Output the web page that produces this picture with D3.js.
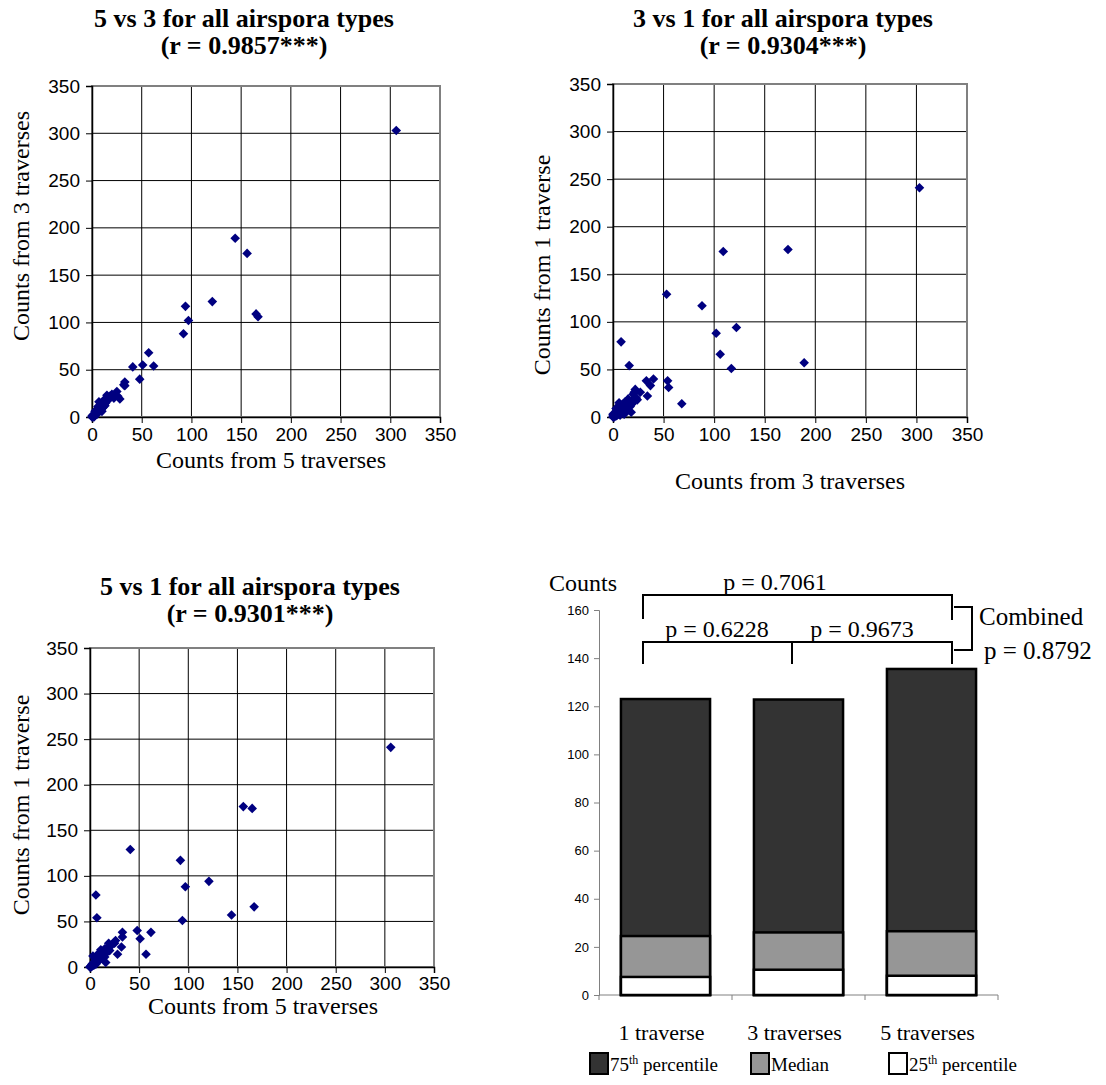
<!DOCTYPE html>
<html>
<head>
<meta charset="utf-8">
<script src="https://cdn.jsdelivr.net/npm/d3@7"></script>
<style>
  body { margin: 0; background: #fff; }
  svg text { fill: #000; }
</style>
</head>
<body>
<svg width="1106" height="1085"></svg>
<script>
// counts per airspora type (same index = same type)
var trav5 = [306, 156, 165, 144, 121, 92, 97, 167, 94, 41, 57, 48, 51, 62, 6, 7,
             33, 33, 32, 25, 28, 26, 15, 16, 17,
             0, 1, 1, 2, 2, 3, 3, 4, 4, 5, 5, 6, 6, 7, 8, 8, 9, 10, 10, 11, 12, 13, 14, 12,
             3, 9, 11, 13, 2, 0, 1, 4, 5, 7, 15, 18, 20, 22, 19, 10, 6];
var trav3 = [303, 173, 109, 189, 122, 88, 102, 106, 117, 53, 68, 40, 55, 54, 8, 16,
             33, 37, 34, 27, 19, 22, 23, 18, 20,
             0, 1, 0, 1, 3, 2, 4, 3, 5, 4, 6, 5, 7, 6, 9, 7, 10, 9, 12, 10, 13, 12, 15, 14,
             6, 14, 15, 19, 0, 1, 2, 7, 3, 11, 17, 22, 24, 20, 21, 6, 11];
var trav1 = [241, 176, 174, 57, 94, 117, 88, 66, 51, 129, 14, 40, 31, 38, 79, 54,
             38, 33, 22, 26, 14, 29, 20, 5, 16,
             0, 0, 1, 2, 1, 4, 2, 5, 3, 6, 4, 8, 5, 9, 6, 10, 8, 12, 9, 14, 10, 16, 12, 17,
             12, 7, 19, 17, 3, 0, 1, 2, 9, 13, 11, 21, 18, 24, 26, 15, 3];

var scatterTicks = [0, 50, 100, 150, 200, 250, 300, 350];

// box chart values
var groups = ["1 traverse", "3 traverses", "5 traverses"];
var pct75 = [123, 122.8, 135.5];
var median = [24.5, 26, 26.5];
var pct25 = [7.5, 10.5, 8];
var barTicks = [0, 20, 40, 60, 80, 100, 120, 140, 160];
var legendNames = [["75", "th", " percentile"], ["Median", "", ""], ["25", "th", " percentile"]];
var legendColors = ["#333333", "#969696", "#ffffff"];

var svg = d3.select("svg");
var serif = '"Liberation Serif", "Times New Roman", serif';
var sans = '"Liberation Sans", Arial, sans-serif';

function drawScatter(c) {
    var g = svg.append("g");
    var x = d3.scaleLinear().domain([0, 350]).range([c.left, c.right]);
    var y = d3.scaleLinear().domain([0, 350]).range([c.bottom, c.top]);

    // gridlines
    g.append("g").selectAll("line").data(scatterTicks.slice(1, -1)).enter().append("line")
        .attr("x1", d => x(d)).attr("x2", d => x(d))
        .attr("y1", c.top).attr("y2", c.bottom)
        .style("stroke", "#000").style("stroke-width", 1);
    g.append("g").selectAll("line").data(scatterTicks.slice(1, -1)).enter().append("line")
        .attr("x1", c.left).attr("x2", c.right)
        .attr("y1", d => y(d)).attr("y2", d => y(d))
        .style("stroke", "#000").style("stroke-width", 1);

    // plot border (gray)
    g.append("rect")
        .attr("x", c.left).attr("y", c.top)
        .attr("width", c.right - c.left).attr("height", c.bottom - c.top)
        .style("fill", "none").style("stroke", "#808080").style("stroke-width", 2);

    // axes
    var xa = g.append("g").attr("transform", "translate(0," + c.bottom + ")")
        .call(d3.axisBottom(x).tickValues(scatterTicks).tickSize(6).tickPadding(c.xPad));
    var ya = g.append("g").attr("transform", "translate(" + c.left + ",0)")
        .call(d3.axisLeft(y).tickValues(scatterTicks).tickSize(6).tickPadding(6));
    [xa, ya].forEach(function (a) {
        a.select(".domain").style("stroke", "#000").style("stroke-width", 1.5);
        a.selectAll(".tick line").style("stroke", "#000");
        a.selectAll("text").style("font-family", sans).style("font-size", "19px").style("fill", "#000");
    });

    // points
    g.append("g").selectAll("path").data(c.xs.map((v, i) => [v, c.ys[i]])).enter().append("path")
        .attr("d", "M0,-4.8L4.8,0L0,4.8L-4.8,0Z")
        .attr("transform", d => "translate(" + x(d[0]) + "," + y(d[1]) + ")")
        .style("fill", "#000080");

    // titles
    c.title.forEach(function (t, i) {
        g.append("text").attr("x", c.titleX).attr("y", c.titleY + i * 27)
            .attr("text-anchor", "middle")
            .style("font-family", serif).style("font-weight", "bold").style("font-size", "26px")
            .text(t);
    });
    g.append("text").attr("x", c.xLabelX).attr("y", c.xLabelY)
        .attr("text-anchor", "middle")
        .style("font-family", serif).style("font-size", "24px")
        .text(c.xLabel);
    g.append("text")
        .attr("transform", "translate(" + c.yLabelX + "," + c.yLabelY + ") rotate(-90)")
        .attr("text-anchor", "middle")
        .style("font-family", serif).style("font-size", "24px")
        .text(c.yLabel);
}

drawScatter({
    left: 92, right: 440, top: 86, bottom: 417, xPad: 5,
    xs: trav5, ys: trav3,
    title: ["5 vs 3 for all airspora types", "(r = 0.9857***)"], titleX: 244, titleY: 27,
    xLabel: "Counts from 5 traverses", xLabelX: 271, xLabelY: 468,
    yLabel: "Counts from 3 traverses", yLabelX: 29, yLabelY: 226
});
drawScatter({
    left: 613, right: 967, top: 84, bottom: 417, xPad: 5,
    xs: trav3, ys: trav1,
    title: ["3 vs 1 for all airspora types", "(r = 0.9304***)"], titleX: 783, titleY: 27,
    xLabel: "Counts from 3 traverses", xLabelX: 790, xLabelY: 489,
    yLabel: "Counts from 1 traverse", yLabelX: 550, yLabelY: 265
});
drawScatter({
    left: 90, right: 434, top: 648, bottom: 967, xPad: 4,
    xs: trav5, ys: trav1,
    title: ["5 vs 1 for all airspora types", "(r = 0.9301***)"], titleX: 250, titleY: 595,
    xLabel: "Counts from 5 traverses", xLabelX: 263, xLabelY: 1014,
    yLabel: "Counts from 1 traverse", yLabelX: 29, yLabelY: 805
});

// ---- percentile bar chart ----
var bx = d3.scaleBand().domain(groups).range([599, 998]).paddingInner(0.33).paddingOuter(0.165);
var by = d3.scaleLinear().domain([0, 160]).range([995, 610]);
var bg = svg.append("g");

var bya = bg.append("g").attr("transform", "translate(599,0)")
    .call(d3.axisLeft(by).tickValues(barTicks).tickSize(5).tickPadding(5));
bya.select(".domain").style("stroke", "#808080");
bya.selectAll(".tick line").style("stroke", "#808080");
bya.selectAll("text").style("font-family", sans).style("font-size", "13px").style("fill", "#000");

// x axis with ticks between categories
bg.append("line").attr("x1", 599).attr("x2", 998).attr("y1", by(0)).attr("y2", by(0))
    .style("stroke", "#808080");
bg.append("g").selectAll("line").data([0, 1, 2, 3]).enter().append("line")
    .attr("x1", d => 599 + d * bx.step()).attr("x2", d => 599 + d * bx.step())
    .attr("y1", by(0)).attr("y2", by(0) + 5)
    .style("stroke", "#808080");

[pct75, median, pct25].forEach(function (vals, k) {
    bg.append("g").selectAll("rect").data(vals).enter().append("rect")
        .attr("x", (d, i) => bx(groups[i]))
        .attr("width", bx.bandwidth())
        .attr("y", d => by(d))
        .attr("height", d => by(0) - by(d))
        .style("fill", legendColors[k])
        .style("stroke", "#000").style("stroke-width", 2.5);
});

bg.selectAll(".cat").data(groups).enter().append("text")
    .attr("x", d => bx(d) + bx.bandwidth() / 2 - 4).attr("y", 1040)
    .attr("text-anchor", "middle")
    .style("font-family", serif).style("font-size", "22px")
    .text(d => d);

bg.append("text").attr("x", 549).attr("y", 591)
    .style("font-family", serif).style("font-size", "24px").text("Counts");

// significance brackets
var bl = bg.append("g").style("stroke", "#000").style("stroke-width", 2).style("fill", "none");
bl.append("path").attr("d", "M643,619V595H952V620");
bl.append("path").attr("d", "M643,664V642H952V664M792,642V664");
bl.append("path").attr("d", "M954,607H972V650H954");

var ptxt = [["p = 0.7061", 775, 590], ["p = 0.6228", 717, 637], ["p = 0.9673", 862, 637]];
ptxt.forEach(function (p) {
    bg.append("text").attr("x", p[1]).attr("y", p[2]).attr("text-anchor", "middle")
        .style("font-family", serif).style("font-size", "24px").text(p[0]);
});
bg.append("text").attr("x", 979).attr("y", 625)
    .style("font-family", serif).style("font-size", "25px").text("Combined");
bg.append("text").attr("x", 984).attr("y", 659)
    .style("font-family", serif).style("font-size", "25px").text("p = 0.8792");

// legend
var legX = [590, 751, 889];
legendNames.forEach(function (n, i) {
    bg.append("rect").attr("x", legX[i]).attr("y", 1053).attr("width", 18).attr("height", 21)
        .style("fill", legendColors[i]).style("stroke", "#000").style("stroke-width", 2);
    var t = bg.append("text").attr("x", legX[i] + 20).attr("y", 1071)
        .style("font-family", serif).style("font-size", "19px");
    t.append("tspan").text(n[0]);
    if (n[1]) t.append("tspan").attr("dy", -7).style("font-size", "12px").text(n[1]);
    if (n[2]) t.append("tspan").attr("dy", n[1] ? 7 : 0).text(n[2]);
});
</script>
</body>
</html>
